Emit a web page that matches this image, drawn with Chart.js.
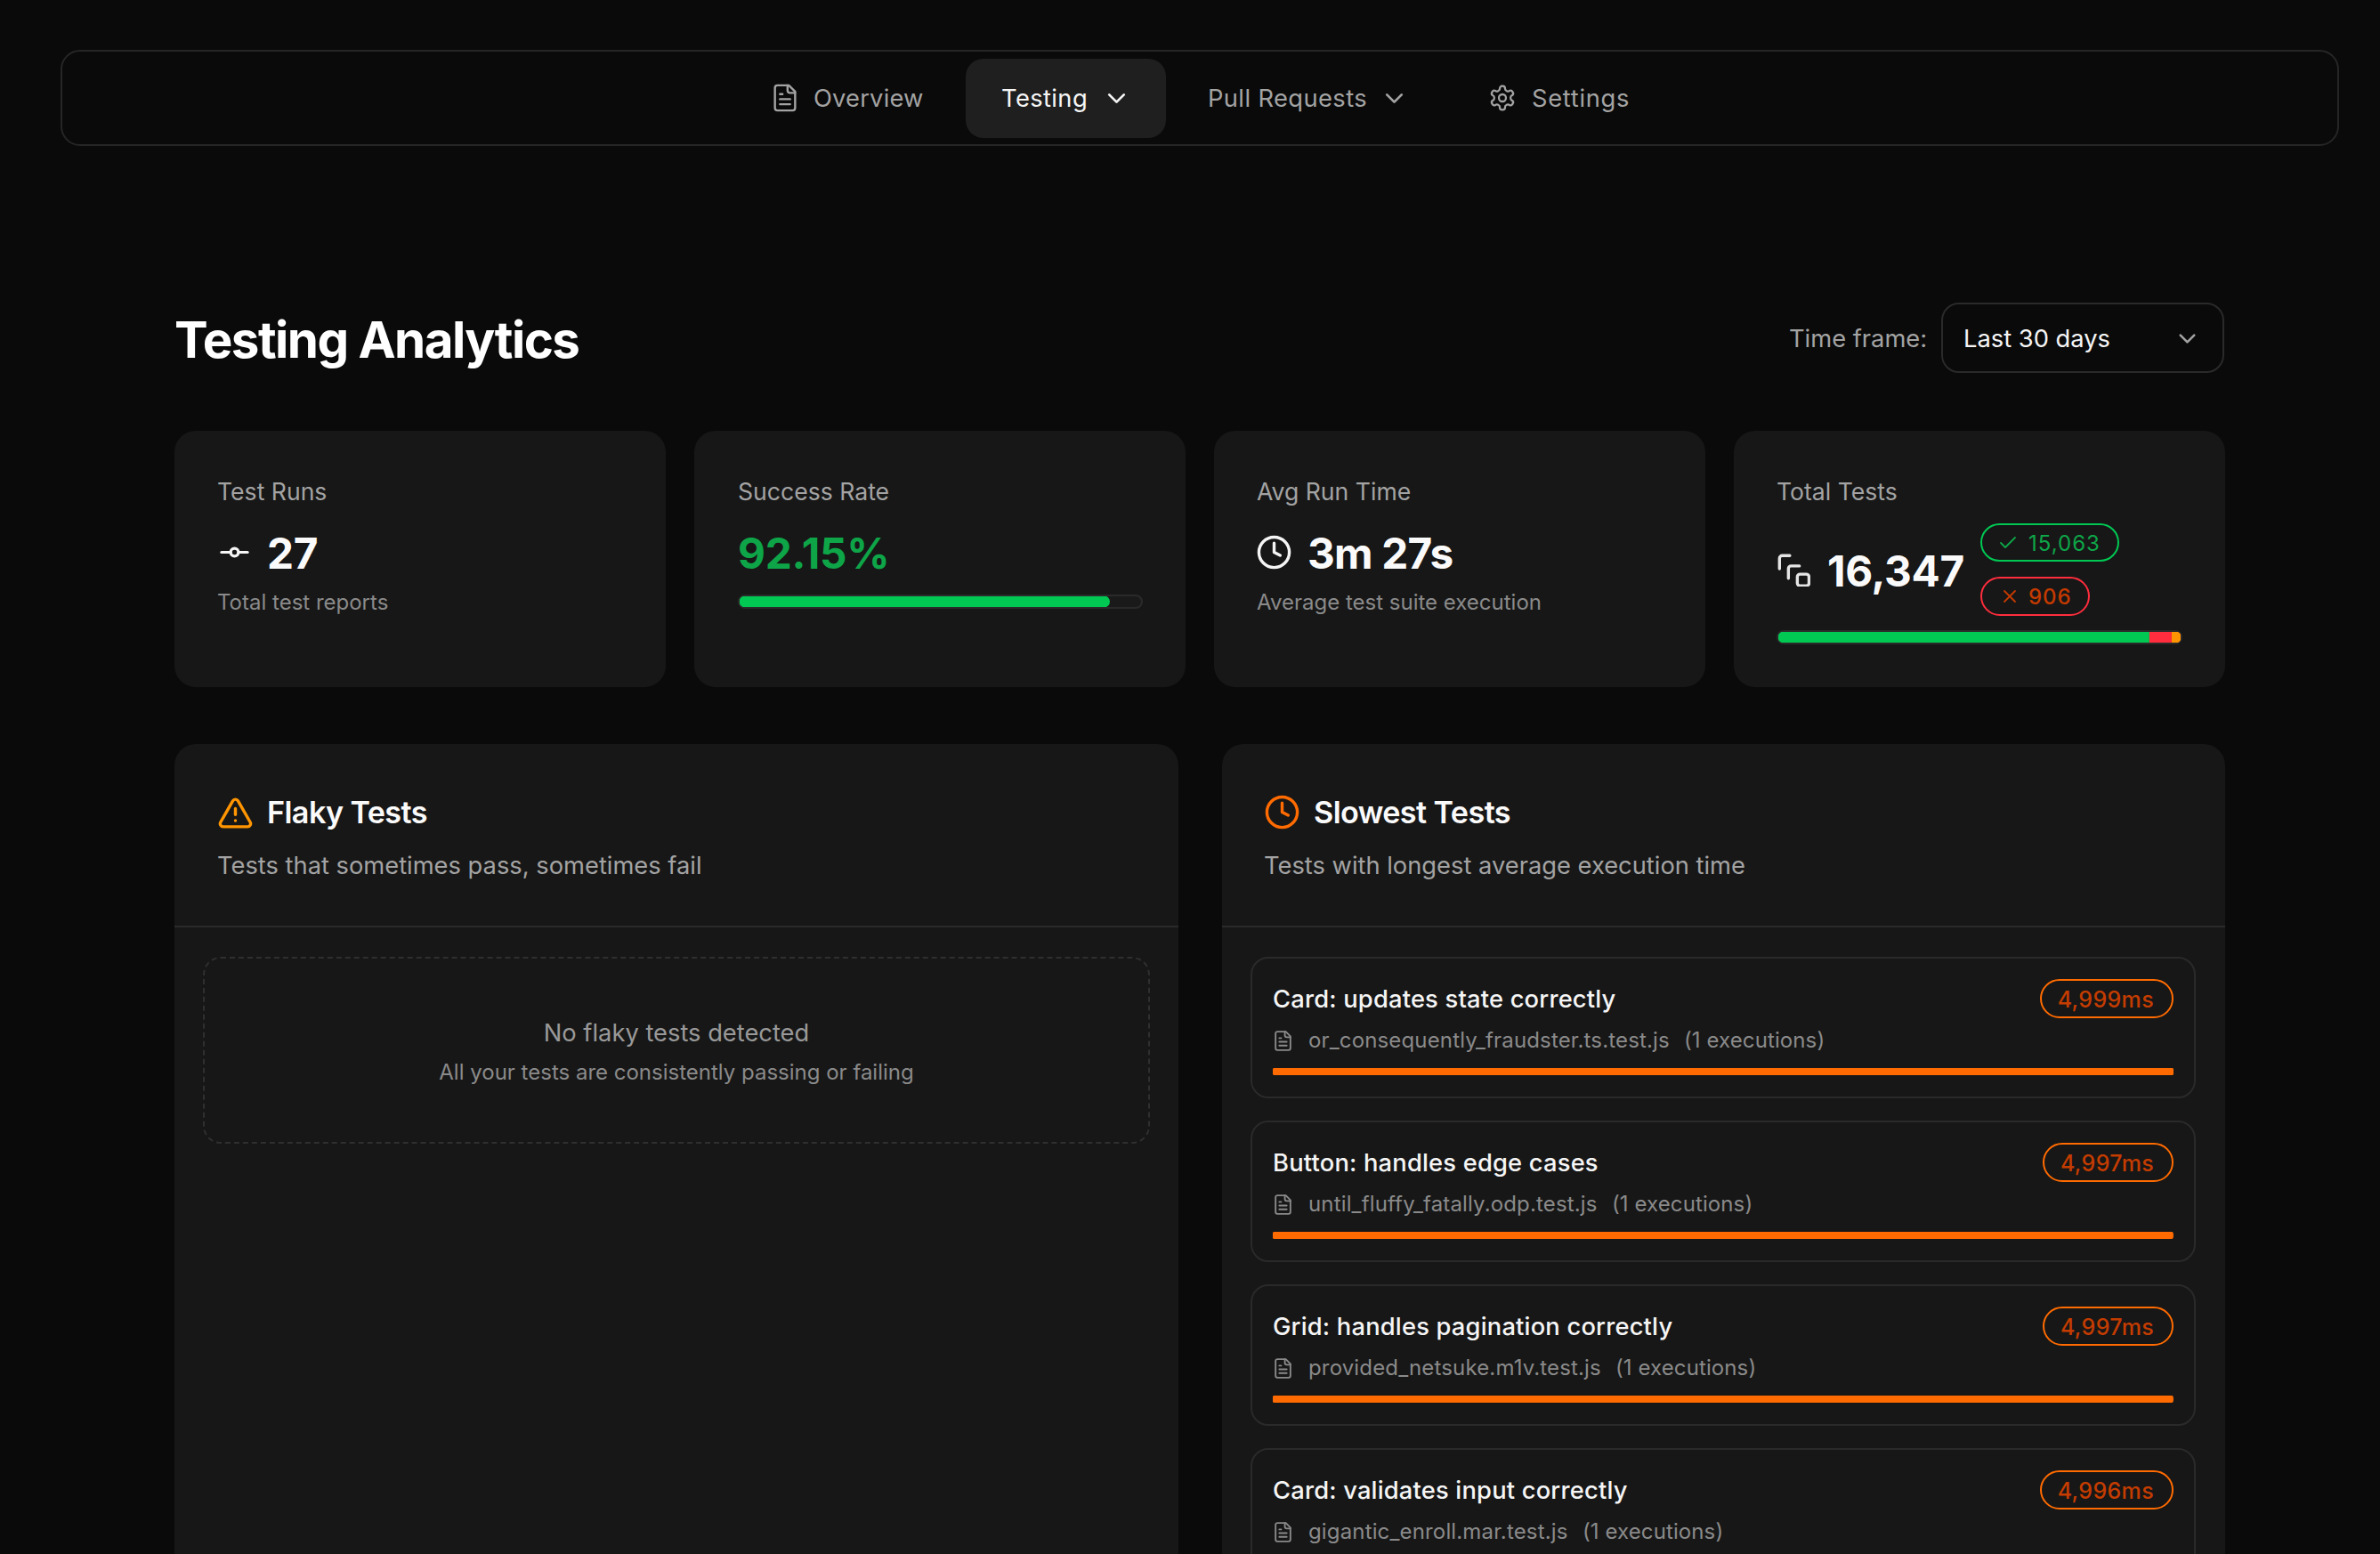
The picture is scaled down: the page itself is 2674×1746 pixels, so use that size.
<!DOCTYPE html>
<html>
<head>
<meta charset="utf-8">
<title>Testing Analytics</title>
<script src="https://cdn.jsdelivr.net/npm/chart.js@4"></script>
<style>
html, body { margin: 0; height: 1746px; overflow: hidden; background: #0a0a0a; }
body { position: relative; width: 2674px; font-family: Inter, sans-serif; color: #a3a3a3; }
div, span, svg, canvas { position: absolute; }
.box { box-sizing: border-box; }
.t { white-space: nowrap; transform: translateY(-50%); line-height: 1.2; }
.card { background: #171717; border-radius: 24px; }
.big { font-size: 47.7px; font-weight: 700; color: #fafafa; letter-spacing: -0.3px; }
.label { font-size: 26.6px; color: #a3a3a3; }
.sub { font-size: 27.3px; color: #a3a3a3; }
.small { font-size: 24px; color: #8a8a8a; }
.nav { font-size: 27.3px; letter-spacing: 0.4px; color: #a3a3a3; }
.head { font-size: 34.2px; font-weight: 600; color: #fafafa; letter-spacing: -0.6px; }
.pill { box-sizing: border-box; border: 2.5px solid; border-radius: 24px; }
.pilltext { font-size: 24px; letter-spacing: 1px; }
.item { box-sizing: border-box; left: 1405px; width: 1062px; height: 159px; border: 2px solid #2a2a2a; border-radius: 20px; }
.track { box-sizing: border-box; background: #1a1a1a; border: 2.5px solid #2a2a2a; border-radius: 8px; }
svg { fill: none; stroke: currentColor; stroke-width: 2; stroke-linecap: round; stroke-linejoin: round; }
</style>
</head>
<body>
<div id="page"></div>
<script>
// chart values
const successLabels = ["Success rate"]
const successValues = [92.15]
const outcomeLabels = ["Passed", "Failed", "Skipped"]
const outcomeValues = [15063, 906, 378]
const outcomeColors = ["#00c853", "#ff2d3d", "#ff9500"]
const slowNames = ["Card: updates state correctly", "Button: handles edge cases", "Grid: handles pagination correctly", "Card: validates input correctly"]
const slowFiles = ["or_consequently_fraudster.ts.test.js", "until_fluffy_fatally.odp.test.js", "provided_netsuke.m1v.test.js", "gigantic_enroll.mar.test.js"]
const slowDurations = [4999, 4997, 4997, 4996]
const slowExecutions = [1, 1, 1, 1]
const navItems = ["Overview", "Testing", "Pull Requests", "Settings"]

const icons = {
    file: '<path d="M15 2H6a2 2 0 0 0-2 2v16a2 2 0 0 0 2 2h12a2 2 0 0 0 2-2V7Z"/><path d="M14 2v4a2 2 0 0 0 2 2h4"/><path d="M10 9H8"/><path d="M16 13H8"/><path d="M16 17H8"/>',
    chevron: '<path d="m6 9 6 6 6-6"/>',
    gear: '<path d="M12.22 2h-.44a2 2 0 0 0-2 2v.18a2 2 0 0 1-1 1.73l-.43.25a2 2 0 0 1-2 0l-.15-.08a2 2 0 0 0-2.73.73l-.22.38a2 2 0 0 0 .73 2.73l.15.1a2 2 0 0 1 1 1.72v.51a2 2 0 0 1-1 1.74l-.15.09a2 2 0 0 0-.73 2.73l.22.38a2 2 0 0 0 2.73.73l.15-.08a2 2 0 0 1 2 0l.43.25a2 2 0 0 1 1 1.73V20a2 2 0 0 0 2 2h.44a2 2 0 0 0 2-2v-.18a2 2 0 0 1 1-1.73l.43-.25a2 2 0 0 1 2 0l.15.08a2 2 0 0 0 2.73-.73l.22-.39a2 2 0 0 0-.73-2.73l-.15-.08a2 2 0 0 1-1-1.74v-.5a2 2 0 0 1 1-1.74l.15-.09a2 2 0 0 0 .73-2.73l-.22-.38a2 2 0 0 0-2.73-.73l-.15.08a2 2 0 0 1-2 0l-.43-.25a2 2 0 0 1-1-1.73V4a2 2 0 0 0-2-2z"/><circle cx="12" cy="12" r="3"/>',
    commit: '<circle cx="12" cy="12" r="3"/><path d="M2 12h7"/><path d="M15 12h7"/>',
    clock: '<circle cx="12" cy="12" r="10"/><path d="M12 6v6l4 2"/>',
    alert: '<path d="m21.73 18-8-14a2 2 0 0 0-3.48 0l-8 14A2 2 0 0 0 4 21h16a2 2 0 0 0 1.73-3"/><path d="M12 9v4"/><path d="M12 17h.01"/>',
    chain: '<path d="M1.5 11V3.5a2 2 0 0 1 2-2H9"/><path d="M8 18v-7a2 2 0 0 1 2-2h6"/><rect x="14.5" y="15" width="8.5" height="8.5" rx="2"/>',
    check: '<path d="M20 6 9 17l-5-5"/>',
    cross: '<path d="M18 6 6 18"/><path d="m6 6 12 12"/>',
}

function text(x, cy, str, cls, extra = "") {
    return `<span class="t ${cls}" style="left:${x}px;top:${cy}px;${extra}">${str}</span>`
}
function icon(name, x, cy, size, color, sw = 2) {
    return `<svg viewBox="0 0 24 24" style="left:${x}px;top:${cy - size / 2}px;width:${size}px;height:${size}px;color:${color};stroke-width:${sw}">${icons[name]}</svg>`
}
function rect(x, y, w, h, cls, extra = "") {
    return `<div class="${cls}" style="left:${x}px;top:${y}px;width:${w}px;height:${h}px;${extra}"></div>`
}
function barCanvas(id, x, y, w, h) {
    return `<canvas id="${id}" width="${w}" height="${h}" style="left:${x}px;top:${y}px;width:${w}px;height:${h}px"></canvas>`
}

let html = ""
// top nav
html += rect(68, 56, 2560, 108, "box", "border:2px solid #262626;border-radius:22px")
html += rect(1085, 66, 225, 89, "", "background:#1f1f1f;border-radius:20px")
html += icon("file", 865, 110, 34, "#a3a3a3", 1.7)
html += text(914, 111, navItems[0], "nav", "letter-spacing:.2px")
html += text(1125, 111, navItems[1], "nav", "color:#f5f5f5")
html += icon("chevron", 1238, 110, 33, "#f5f5f5", 2)
html += text(1357, 111, navItems[2], "nav")
html += icon("chevron", 1550, 110, 33, "#a3a3a3", 2)
html += icon("gear", 1672, 110, 32, "#a3a3a3", 1.7)
html += text(1721, 111, navItems[3], "nav", "letter-spacing:.7px")

// page header
html += text(196, 382, "Testing Analytics", "", "font-size:56.5px;font-weight:700;color:#fff;letter-spacing:-1.55px")
html += text(2010, 381, "Time frame:", "sub")
html += rect(2181, 340, 318, 79, "box", "border:2.5px solid #2a2a2a;border-radius:20px")
html += text(2206, 381, "Last 30 days", "nav", "color:#f5f5f5;letter-spacing:0")
html += icon("chevron", 2442, 380, 31, "#a3a3a3", 2)

// stat cards
;[196, 780, 1364, 1948].forEach((x) => { html += rect(x, 484, 552, 288, "card") })
html += text(244, 553, "Test Runs", "label")
html += icon("commit", 246, 620, 35, "#f5f5f5", 2.2)
html += text(300, 622.5, "27", "big")
html += text(244, 677, "Total test reports", "small")

html += text(829, 553, "Success Rate", "label")
html += text(829, 622.5, successValues[0] + "%", "big", "color:#0ea548")
html += rect(829, 668, 455, 16, "track")
html += barCanvas("successBar", 831, 670, 451, 12)

html += text(1412, 553, "Avg Run Time", "label")
html += icon("clock", 1411, 620, 41, "#f5f5f5", 2)
html += text(1469, 622.5, "3m 27s", "big", "letter-spacing:-.8px")
html += text(1412, 677, "Average test suite execution", "small")

html += text(1996, 553, "Total Tests", "label")
html += icon("chain", 1997, 640, 37, "#e5e5e5", 2.2)
html += text(2053, 642.5, outcomeValues.reduce((a, b) => a + b, 0).toLocaleString("en-US"), "big")
html += rect(2225, 588, 156, 43, "pill", "border-color:#00c853")
html += icon("check", 2244, 610, 24, "#0ea548", 1.8)
html += text(2279, 611, outcomeValues[0].toLocaleString("en-US"), "pilltext", "color:#0ea548")
html += rect(2225, 648, 123, 44, "pill", "border-color:#ff2d3d")
html += icon("cross", 2246, 670, 24, "#c43a00", 1.8)
html += text(2279, 671, outcomeValues[1].toLocaleString("en-US"), "pilltext", "color:#c43a00;font-weight:500")
html += rect(1996, 708, 456, 16, "track")
html += barCanvas("outcomeBar", 1998, 710, 452, 12)

// flaky panel
html += rect(196, 836, 1128, 1000, "card")
html += icon("alert", 244, 913, 41, "#ff9500", 2)
html += text(300, 913, "Flaky Tests", "head")
html += text(244, 973, "Tests that sometimes pass, sometimes fail", "sub")
html += rect(196, 1040, 1128, 2, "", "background:#2a2a2a")
html += rect(228, 1075, 1064, 210, "box", "border:2px dashed #2f2f2f;border-radius:20px")
html += text(760, 1161, "No flaky tests detected", "sub", "transform:translate(-50%,-50%);color:#999")
html += text(760, 1205, "All your tests are consistently passing or failing", "small", "transform:translate(-50%,-50%)")

// slowest panel
html += rect(1373, 836, 1127, 1000, "card")
html += icon("clock", 1420, 912, 41, "#ff6b00", 2)
html += text(1476, 913, "Slowest Tests", "head")
html += text(1420, 973, "Tests with longest average execution time", "sub")
html += rect(1373, 1040, 1127, 2, "", "background:#2a2a2a")
slowNames.forEach((name, i) => {
    const y = 1075 + i * 184
    const label = slowDurations[i].toLocaleString("en-US") + "ms"
    html += `<div class="item" style="top:${y}px"></div>`
    html += text(1430, y + 48, name, "", "font-size:27.3px;font-weight:500;color:#f5f5f5;letter-spacing:.2px")
    html += icon("file", 1429, y + 94, 25, "#8a8a8a", 1.8)
    html += text(1470, y + 94, slowFiles[i], "small", "letter-spacing:.15px")
    html += `<span class="t small exec" style="top:${y + 94}px;letter-spacing:.1px">(${slowExecutions[i]} executions)</span>`
    const w = label.includes("999") || label.includes("996") ? 150 : 147
    html += rect(2442 - w, y + 25, w, 44, "pill", "border-color:#ff6b00")
    html += text(2420, y + 48, label, "pilltext", "transform:translate(-100%,-50%);font-size:25px;font-weight:500;letter-spacing:.35px;color:#c43c00")
    html += barCanvas("slowBar" + i, 1430, y + 125, 1012, 8)
})
document.getElementById("page").innerHTML = html

// executions text sits right after the file name
document.querySelectorAll(".exec").forEach((el) => {
    const file = el.previousElementSibling
    el.style.left = file.offsetLeft + file.offsetWidth + 16 + "px"
})

function progressChart(id, labels, datasets, max) {
    new Chart(document.getElementById(id), {
        type: "bar",
        data: { labels: labels, datasets: datasets },
        options: {
            indexAxis: "y",
            responsive: false,
            animation: false,
            devicePixelRatio: 1,
            layout: { padding: 0 },
            plugins: { legend: { display: false }, tooltip: { enabled: false } },
            scales: {
                x: { display: false, stacked: true, min: 0, max: max },
                y: { display: false, stacked: true },
            },
        },
    })
}

const barBase = { barPercentage: 1, categoryPercentage: 1, borderSkipped: false }

progressChart("successBar", successLabels, [
    { ...barBase, data: successValues, backgroundColor: "#00c853", borderRadius: 6 },
], 100)

progressChart("outcomeBar", ["Tests"], outcomeLabels.map((label, i) => ({
    ...barBase,
    label: label,
    data: [outcomeValues[i]],
    backgroundColor: outcomeColors[i],
    borderRadius: i == 0 ? { topLeft: 6, bottomLeft: 6 } : i == 2 ? { topRight: 6, bottomRight: 6 } : 0,
})), outcomeValues.reduce((a, b) => a + b, 0))

slowDurations.forEach((value, i) => {
    progressChart("slowBar" + i, [slowNames[i]], [
        { ...barBase, data: [value], backgroundColor: "#ff6b00", borderRadius: 3 },
    ], Math.max(...slowDurations))
})
</script>
</body>
</html>
